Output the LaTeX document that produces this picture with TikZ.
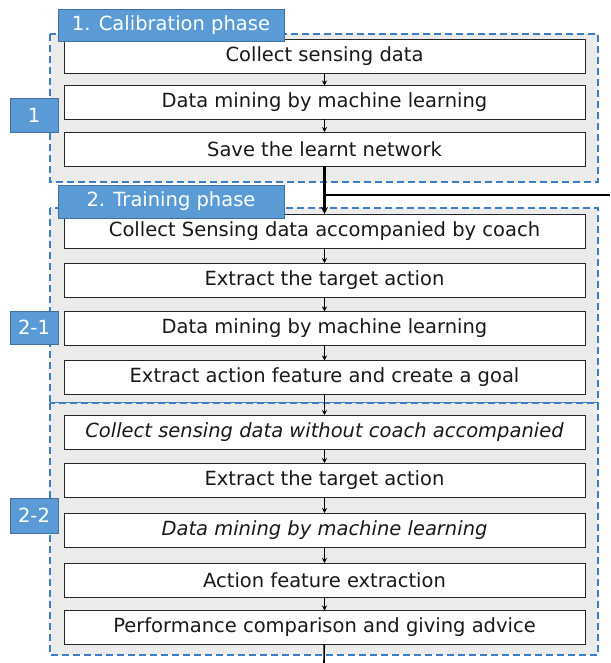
\documentclass[tikz,border=0pt]{standalone}
\usepackage{fontspec}
\setmainfont{DejaVu Sans}
\usetikzlibrary{arrows.meta}
\definecolor{phaseblue}{HTML}{3C7DC4}
\definecolor{tagfill}{HTML}{5B9BD5}
\definecolor{tagedge}{HTML}{41719C}
\definecolor{panelgray}{HTML}{EBEBEB}
\tikzset{
  phasebox/.style={draw=phaseblue, fill=panelgray, line width=1.4pt, dash pattern=on 7pt off 4pt},
  stepbox/.style={draw=black!85, fill=white, line width=0.9pt, minimum width=521pt,
    minimum height=34pt, inner sep=0pt, outer sep=0pt, font=\fontsize{19.5}{22}\selectfont, text=black!90},
  tagbox/.style={draw=tagedge, fill=tagfill, line width=0.8pt, inner sep=0pt, outer sep=0pt,
    text=white, font=\fontsize{19.5}{22}\selectfont},
  flow/.style={-{Stealth[length=5pt,width=5pt]}, line width=1pt, black},
}
\begin{document}
\begin{tikzpicture}[x=1pt,y=-1pt]
\useasboundingbox (0,0) rectangle (610,663);

% phase panels
\draw[phasebox] (50,34) rectangle (598,182);
\draw[phasebox] (50,208) rectangle (598,403);
\draw[phasebox] (50,403) rectangle (598,655);

% calibration steps
\node[stepbox] (a1) at (324.5,56.5) {Collect sensing data};
\node[stepbox] (a2) at (324.5,102.5) {Data mining by machine learning};
\node[stepbox] (a3) at (324.5,149) {Save the learnt network};

% training steps with coach
\node[stepbox] (b1) at (324.5,231) {Collect Sensing data accompanied by coach};
\node[stepbox] (b2) at (324.5,280) {Extract the target action};
\node[stepbox] (b3) at (324.5,328.5) {Data mining by machine learning};
\node[stepbox] (b4) at (324.5,377.5) {Extract action feature and create a goal};

% training steps without coach
\node[stepbox] (c1) at (324.5,432) {\textit{Collect sensing data without coach accompanied}};
\node[stepbox] (c2) at (324.5,480) {Extract the target action};
\node[stepbox] (c3) at (324.5,530) {\textit{Data mining by machine learning}};
\node[stepbox] (c4) at (324.5,580) {Action feature extraction};
\node[stepbox] (c5) at (324.5,627.5) {Performance comparison and giving advice};

% tags
\node[tagbox, minimum width=226pt, minimum height=32pt] (t1) at (171,25) {1. Calibration phase};
\node[tagbox, minimum width=226pt, minimum height=33pt] (t2) at (171,201.5) {2. Training phase};
\node[tagbox, minimum width=48pt, minimum height=34pt] (s1) at (34,115) {1};
\node[tagbox, minimum width=48pt, minimum height=33pt] (s21) at (34,327.5) {2-1};
\node[tagbox, minimum width=48pt, minimum height=35pt] (s22) at (34,515.5) {2-2};

% connectors
\draw[flow] (a1) -- (a2);
\draw[flow] (a2) -- (a3);
\draw[-{Stealth[length=7pt,width=7pt]}, line width=2.6pt] (a3) -- (b1);
\coordinate (split) at (324,195);
\coordinate (exitR) at (610,195);
\draw[line width=1.3pt] (split) -- (exitR);
\draw[flow] (b1) -- (b2);
\draw[flow] (b2) -- (b3);
\draw[flow] (b3) -- (b4);
\draw[flow, line width=1.6pt] (b4) -- (c1);
\draw[flow] (c1) -- (c2);
\draw[flow] (c2) -- (c3);
\draw[flow] (c3) -- (c4);
\draw[flow] (c4) -- (c5);
\coordinate (exitB) at (324,663);
\draw[line width=1.6pt] (c5) -- (exitB);
\end{tikzpicture}
\end{document}
